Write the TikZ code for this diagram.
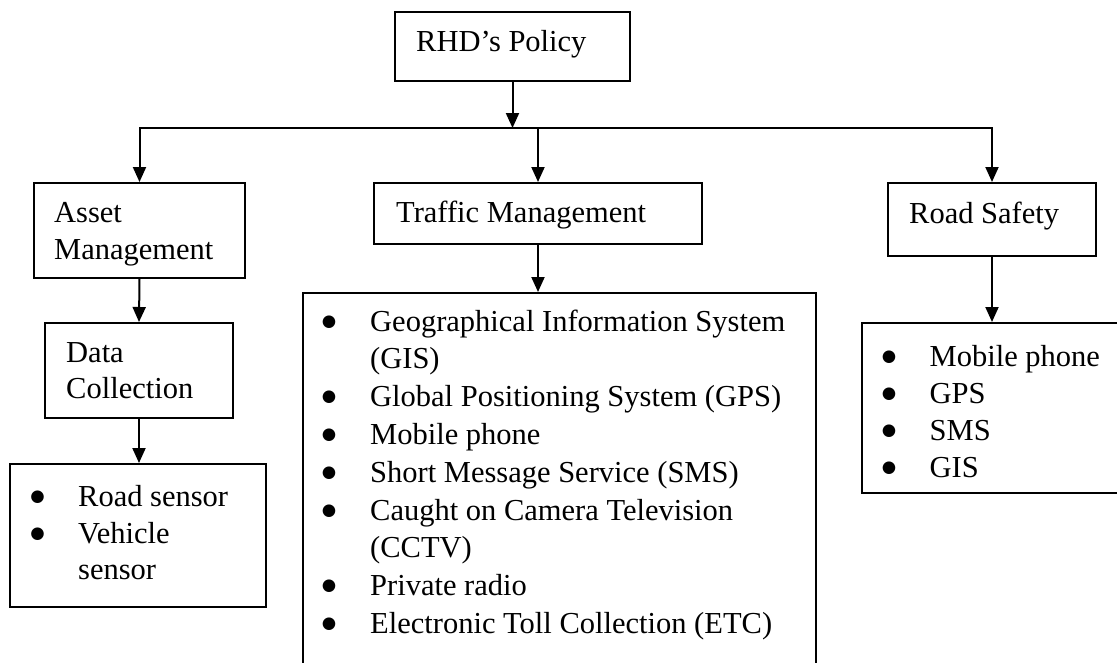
\documentclass[tikz,border=0pt]{standalone}
\usepackage{fontspec}
\setmainfont{Liberation Serif}
\newfontfamily\dotfont{DejaVu Sans}
\usetikzlibrary{arrows.meta}
\begin{document}
\begin{tikzpicture}[x=1pt,y=-1pt,
  box/.style={draw, line width=2pt, inner sep=0pt},
  arr/.style={line width=2pt, -{Triangle[length=15pt,width=13pt]}},
  lbl/.style={anchor=base west, inner sep=0pt, font=\fontsize{30.5}{37.8}\selectfont},
  bul/.style={anchor=center, inner sep=0pt, yshift=9pt, font=\dotfont\fontsize{16.5}{16.5}\selectfont},
  ]
\useasboundingbox (0,0) rectangle (1117,662);
\clip (0,0) rectangle (1117,662);

% boxes
\node[box, minimum width=235pt, minimum height=69pt]  (rhd)     at (512.5,46.5) {};
\node[box, minimum width=211pt, minimum height=95pt]  (asset)   at (139.5,230.5) {};
\node[box, minimum width=328pt, minimum height=61pt]  (traffic) at (538,213.5) {};
\node[box, minimum width=208pt, minimum height=73pt]  (safety)  at (992,219.5) {};
\node[box, minimum width=188pt, minimum height=95pt]  (data)    at (139,370.5) {};
\node[box, minimum width=256pt, minimum height=143pt] (sensors) at (138,535.5) {};
\node[box, minimum width=513pt, minimum height=427pt] (tlist)   at (559.5,506.5) {};
\node[box, minimum width=278pt, minimum height=170pt] (slist)   at (1001,408) {};

% box titles
\node[lbl] (rhdT) at (416,51) {RHD’s Policy};
\node[lbl] (assetT1) at (54,222) {Asset};
\node[lbl] (assetT2) at (54,259) {Management};
\node[lbl] (trafficT) at (396,222) {Traffic Management};
\node[lbl] (safetyT) at (909,223) {Road Safety};
\node[lbl] (dataT1) at (66,362) {Data};
\node[lbl] (dataT2) at (66,398) {Collection};

% sensor list
\node[bul] (sb1) at (37.5,506) {●};
\node[lbl] (s1) at (78,506) {Road sensor};
\node[bul] (sb2) at (37.5,543) {●};
\node[lbl] (s2) at (78,543) {Vehicle};
\node[lbl] (s3) at (78,579) {sensor};

% traffic management list
\node[bul] (tb1) at (329,331) {●};
\node[lbl] (t1) at (370,331) {Geographical Information System};
\node[lbl] (t1b) at (370,368.8) {(GIS)};
\node[bul] (tb2) at (329,406.6) {●};
\node[lbl] (t2) at (370,406.6) {Global Positioning System (GPS)};
\node[bul] (tb3) at (329,444.4) {●};
\node[lbl] (t3) at (370,444.4) {Mobile phone};
\node[bul] (tb4) at (329,482.2) {●};
\node[lbl] (t4) at (370,482.2) {Short Message Service (SMS)};
\node[bul] (tb5) at (329,520) {●};
\node[lbl] (t5) at (370,520) {Caught on Camera Television};
\node[lbl] (t5b) at (370,557.8) {(CCTV)};
\node[bul] (tb6) at (329,595.6) {●};
\node[lbl] (t6) at (370,595.6) {Private radio};
\node[bul] (tb7) at (329,633.4) {●};
\node[lbl] (t7) at (370,633.4) {Electronic Toll Collection (ETC)};

% road safety list
\node[bul] (rb1) at (889,366) {●};
\node[lbl] (r1) at (929.5,366) {Mobile phone};
\node[bul] (rb2) at (889,403) {●};
\node[lbl] (r2) at (929.5,403) {GPS};
\node[bul] (rb3) at (889,440) {●};
\node[lbl] (r3) at (929.5,440) {SMS};
\node[bul] (rb4) at (889,477) {●};
\node[lbl] (r4) at (929.5,477) {GIS};

% connectors
\coordinate (bus) at (513,128);
\draw[arr] (rhd.south) -- (rhd.south |- bus);
\draw[arr] (traffic.north |- bus) -| (asset.north);
\draw[arr] (traffic.north |- bus) -| (safety.north);
\draw[arr] (traffic.north |- bus) -- (traffic.north);
\draw[arr] (asset.south) -- (data.north);
\draw[arr] (data.south) -- (data.south |- sensors.north);
\draw[arr] (traffic.south) -- (traffic.south |- tlist.north);
\draw[arr] (safety.south) -- (safety.south |- slist.north);
\end{tikzpicture}
\end{document}
